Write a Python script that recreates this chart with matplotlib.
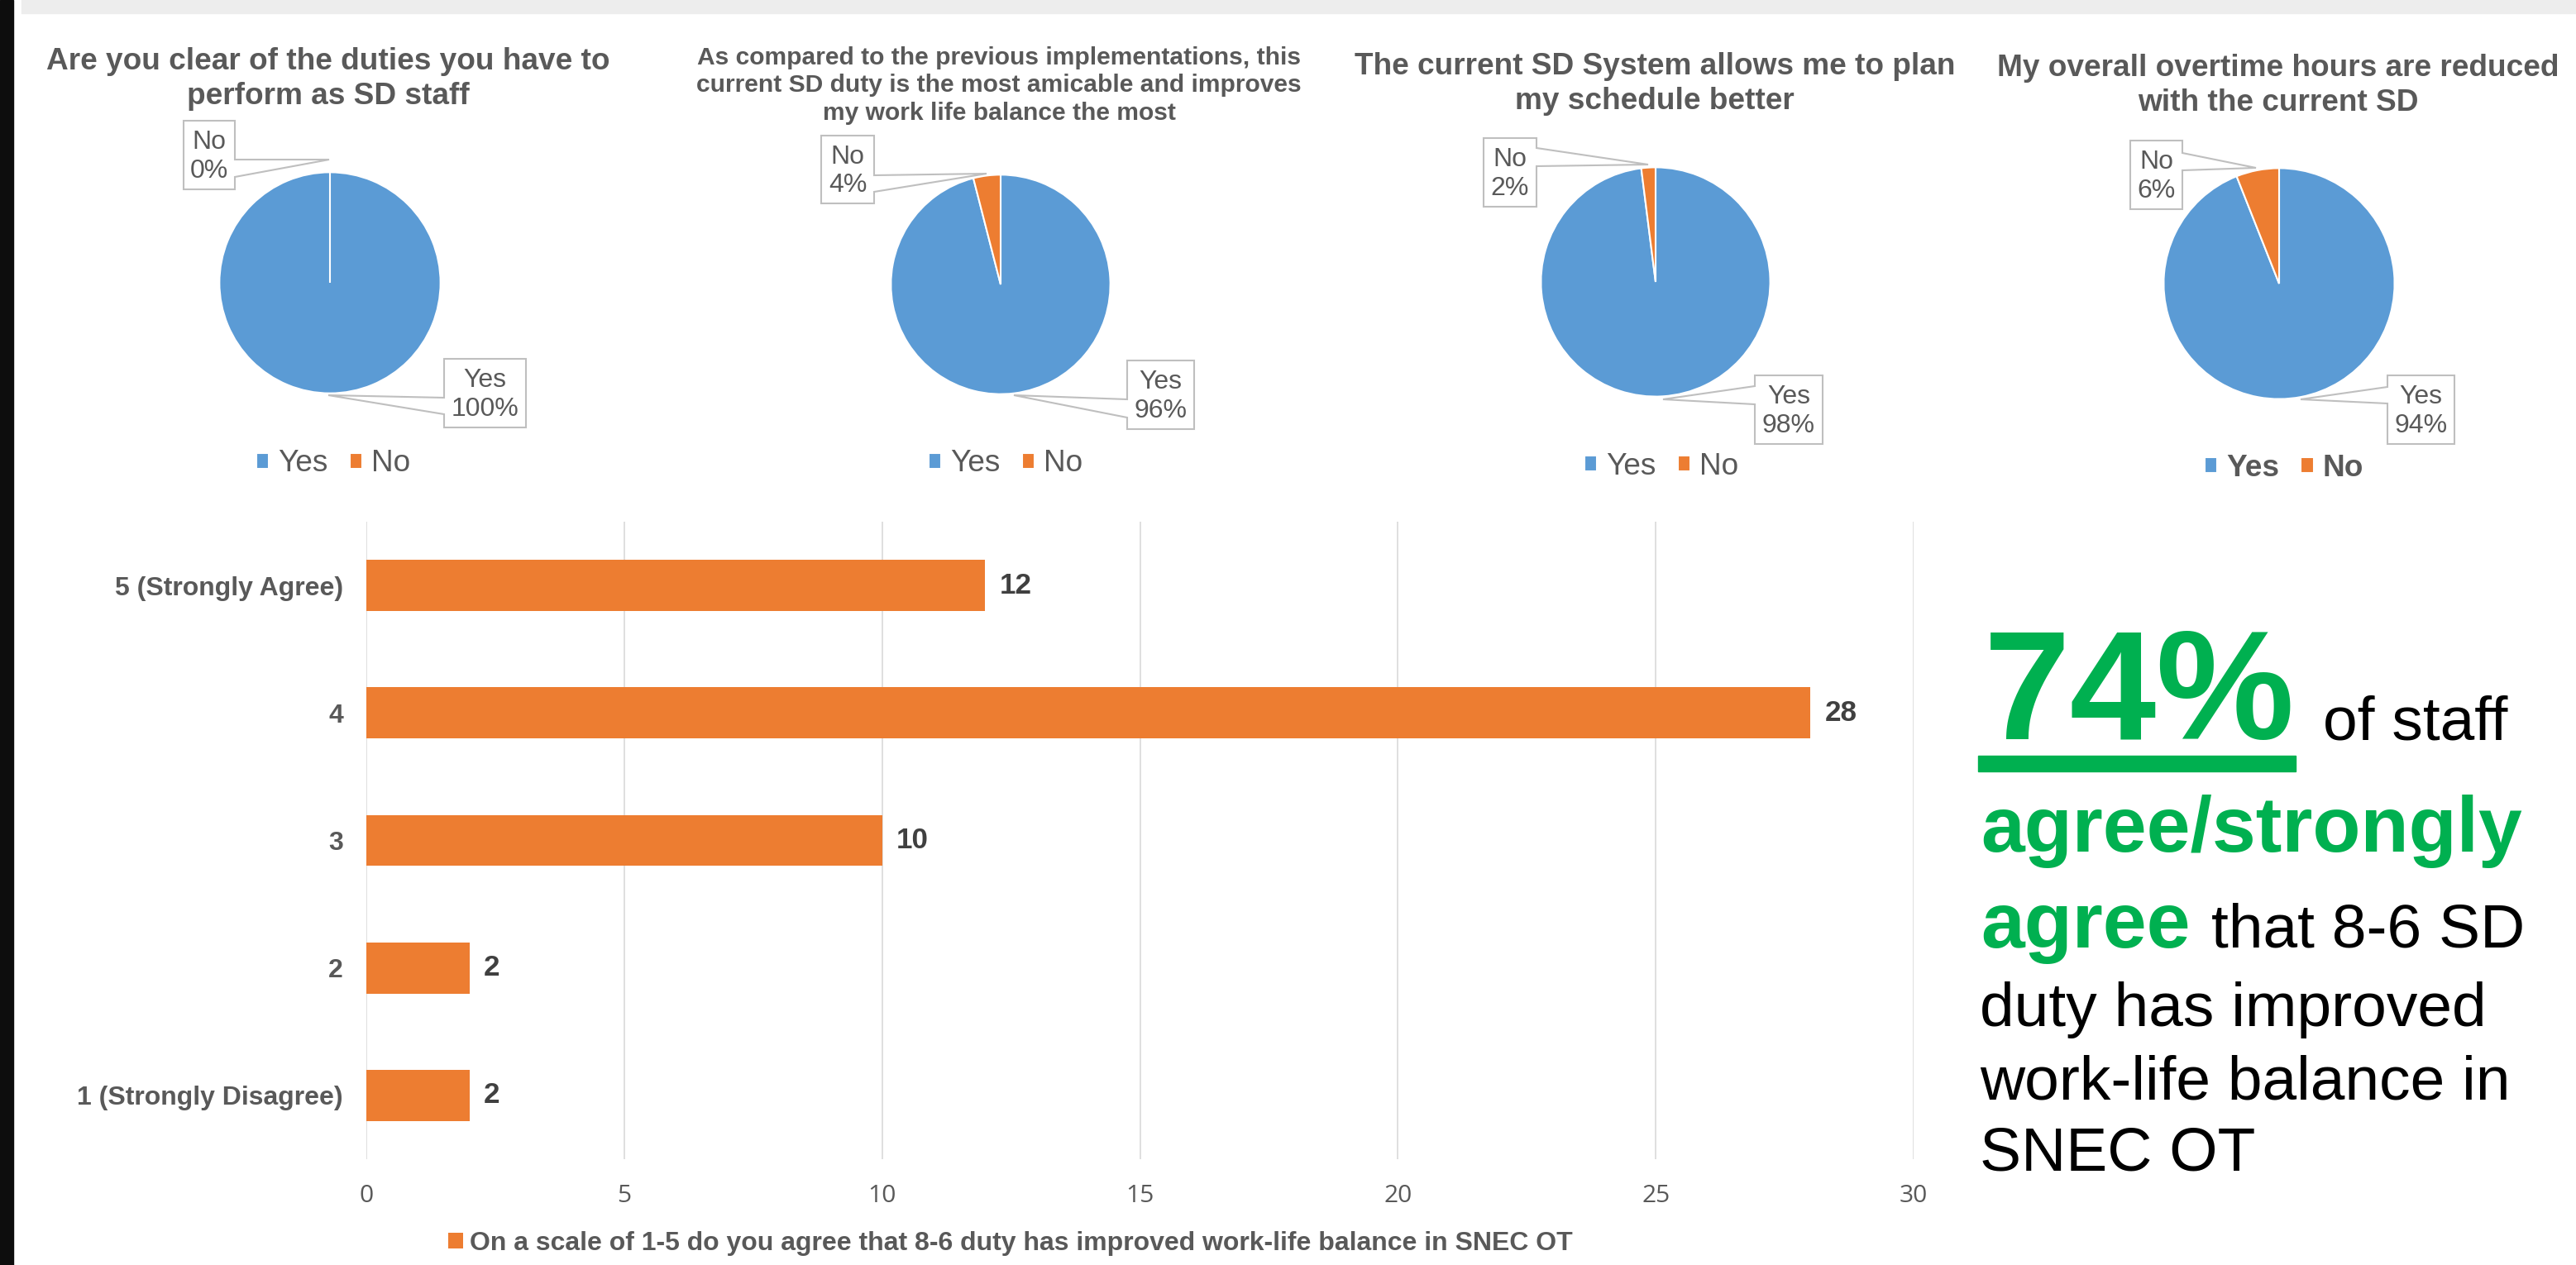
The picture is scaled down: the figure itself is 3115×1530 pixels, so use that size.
import matplotlib
matplotlib.use("Agg")
import matplotlib.pyplot as plt
from matplotlib.patches import Polygon, Rectangle

W, H = 3115, 1530

# ---- data ----
pie_titles = [
    "Are you clear of the duties you have to\nperform as SD staff",
    "As compared to the previous implementations, this\ncurrent SD duty is the most amicable and improves\nmy work life balance the most",
    "The current SD System allows me to plan\nmy schedule better",
    "My overall overtime hours are reduced\nwith the current SD",
]
pie_labels = ["Yes", "No"]
yes_pct = [100, 96, 98, 94]
no_pct = [0, 4, 2, 6]

bar_cats = ["1 (Strongly Disagree)", "2", "3", "4", "5 (Strongly Agree)"]
bar_counts = [2, 2, 10, 28, 12]
bar_legend = "On a scale of 1-5 do you agree that 8-6 duty has improved work-life balance in SNEC OT"
x_ticks = [0, 5, 10, 15, 20, 25, 30]

# ---- layout (pixels) ----
pie_cx = [399, 1210, 2002, 2756]
pie_cy = [342, 344, 341, 343]
pie_r = [135, 134, 140, 141]
title_cx = [397, 1208, 2001, 2755]
title_base = [[84, 126], [78, 111, 145], [90, 132], [92, 134]]
title_px = [37, 30, 37, 37]
leg_cx = [403, 1216, 2009, 2762]
leg_cy = [561, 561, 564, 566]
# callouts: (box, spike, tip)
no_call = [((222, 146, 284, 229), (193, 214), (398, 193)),
           ((993, 164, 1057, 246), (212, 232), (1193, 210)),
           ((1794, 167, 1858, 250), (179, 201), (1993, 199)),
           ((2576, 170, 2639, 253), (185, 206), (2728, 203))]
yes_call = [((537, 434, 636, 517), (481, 501), (397, 478)),
            ((1363, 436, 1444, 519), (483, 505), (1226, 478)),
            ((2122, 454, 2204, 537), (467, 489), (2011, 483)),
            ((2887, 454, 2968, 537), (468, 488), (2782, 483))]

BLUE = '#5B9BD5'
ORANGE = '#ED7D31'
GREY = '#595959'
DARK = '#404040'
GREEN = '#00B050'
EDGE = '#BFBFBF'

plt.rcParams['font.family'] = ['Liberation Sans', 'DejaVu Sans']


def pt(px):
    return px * 0.72


def frac(x0, y0, x1, y1):
    return [x0 / W, 1 - y1 / H, (x1 - x0) / W, (y1 - y0) / H]


fig = plt.figure(figsize=(W / 100, H / 100), dpi=100)

# pies
for i in range(4):
    cx, cy, r = pie_cx[i], pie_cy[i], pie_r[i]
    ax = fig.add_axes(frac(cx - r, cy - r, cx + r, cy + r))
    wedges, _ = ax.pie([yes_pct[i], no_pct[i]], colors=[BLUE, ORANGE], startangle=90,
                       counterclock=False, wedgeprops=dict(edgecolor='white', linewidth=1.5))
    ax.set_xlim(-1.01, 1.01)
    ax.set_ylim(-1.01, 1.01)
    lx = (leg_cx[i] - (cx - r)) / (2 * r)
    ly = (cy + r - leg_cy[i]) / (2 * r)
    ax.legend(wedges, pie_labels, loc='center', bbox_to_anchor=(lx, ly), ncol=2, frameon=False,
              prop=dict(size=pt(37), weight='bold' if i == 3 else 'normal'), labelcolor=GREY,
              handlelength=0.42, handleheight=0.42, handletextpad=0.3, columnspacing=0.7,
              borderpad=0, borderaxespad=0)

# bar chart
bx = fig.add_axes(frac(443, 631, 2314, 1402))
ypos = list(range(len(bar_cats)))
bars = bx.barh(ypos, bar_counts, height=0.4, color=ORANGE, zorder=3)
bx.set_xlim(0, 30)
bx.set_ylim(-0.5, 4.5)
bx.set_xticks(x_ticks)
bx.set_yticks(ypos)
bx.set_yticklabels(bar_cats)
bx.grid(axis='x', color='#D9D9D9', linewidth=1.2, zorder=0)
for s in bx.spines.values():
    s.set_visible(False)
bx.tick_params(axis='y', length=0, pad=pt(28), labelsize=pt(32), labelcolor=GREY)
bx.tick_params(axis='x', length=0, pad=pt(30), labelsize=pt(30), labelcolor=GREY)
for lab in bx.get_yticklabels():
    lab.set_fontweight('bold')
for lab in bx.get_xticklabels():
    lab.set_family(['Open Sans', 'DejaVu Sans'])
for rect, v in zip(bars, bar_counts):
    bx.annotate(str(v), (v, rect.get_y() + rect.get_height() / 2), xytext=(pt(17), 0),
                textcoords='offset points', va='center', ha='left', fontsize=pt(35),
                fontweight='bold', color=DARK)
blx = (1222 - 443) / (2314 - 443)
bly = (1402 - 1504) / (1402 - 631)
bx.legend([bars[0]], [bar_legend], loc='center', bbox_to_anchor=(blx, bly), frameon=False,
          prop=dict(size=pt(32), weight='bold'), labelcolor=GREY, handlelength=0.55,
          handleheight=0.55, handletextpad=0.25, borderpad=0, borderaxespad=0)

# overlay for frame strips, titles, callouts and side text
ov = fig.add_axes([0, 0, 1, 1], zorder=10)
ov.set_xlim(0, W)
ov.set_ylim(H, 0)
ov.axis('off')
ov.patch.set_visible(False)
ov.add_patch(Rectangle((0, 0), 16, H, color='#0D0D0D'))
ov.add_patch(Rectangle((26, 0), W - 26, 16, color='#EDEDED'))

for i in range(4):
    for line, yb in zip(pie_titles[i].split("\n"), title_base[i]):
        ov.text(title_cx[i], yb, line, ha='center', va='baseline', fontsize=pt(title_px[i]),
                fontweight='bold', color=GREY)


def callout(box, spike, tip, side, name, val):
    x0, y0, x1, y1 = box
    ya, yb = spike
    if side == 'right':
        pts = [(x0, y0), (x1, y0), (x1, ya), tip, (x1, yb), (x1, y1), (x0, y1)]
    else:
        pts = [(x0, y0), (x1, y0), (x1, y1), (x0, y1), (x0, yb), tip, (x0, ya)]
    ov.add_patch(Polygon(pts, closed=True, facecolor='white', edgecolor=EDGE, linewidth=1.5))
    h = y1 - y0
    xc = (x0 + x1) / 2
    ov.text(xc, y0 + 0.41 * h, name, ha='center', va='baseline', fontsize=pt(32), color=GREY)
    ov.text(xc, y0 + 0.83 * h, f"{val}%", ha='center', va='baseline', fontsize=pt(32), color=GREY)


for i in range(4):
    callout(*no_call[i], 'right', pie_labels[1], no_pct[i])
    callout(*yes_call[i], 'left', pie_labels[0], yes_pct[i])

# side statement
ov.text(2399, 894, "74%", ha='left', va='baseline', fontsize=pt(188), fontweight='bold', color=GREEN)
ov.add_patch(Rectangle((2392, 914), 2776 - 2392, 19, color=GREEN))
ov.text(2809, 894, "of staff", ha='left', va='baseline', fontsize=pt(75), color='black')
ov.text(2395, 1030, "agree/strongly", ha='left', va='baseline', fontsize=pt(95), fontweight='bold', color=GREEN)
ov.text(2395, 1146, "agree", ha='left', va='baseline', fontsize=pt(95), fontweight='bold', color=GREEN)
ov.text(2674, 1146, "that 8-6 SD", ha='left', va='baseline', fontsize=pt(75), color='black')
ov.text(2394, 1241, "duty has improved", ha='left', va='baseline', fontsize=pt(75), color='black')
ov.text(2394, 1330, "work-life balance in", ha='left', va='baseline', fontsize=pt(75), color='black')
ov.text(2394, 1416, "SNEC OT", ha='left', va='baseline', fontsize=pt(75), color='black')

fig.savefig("out.png", dpi=100)
